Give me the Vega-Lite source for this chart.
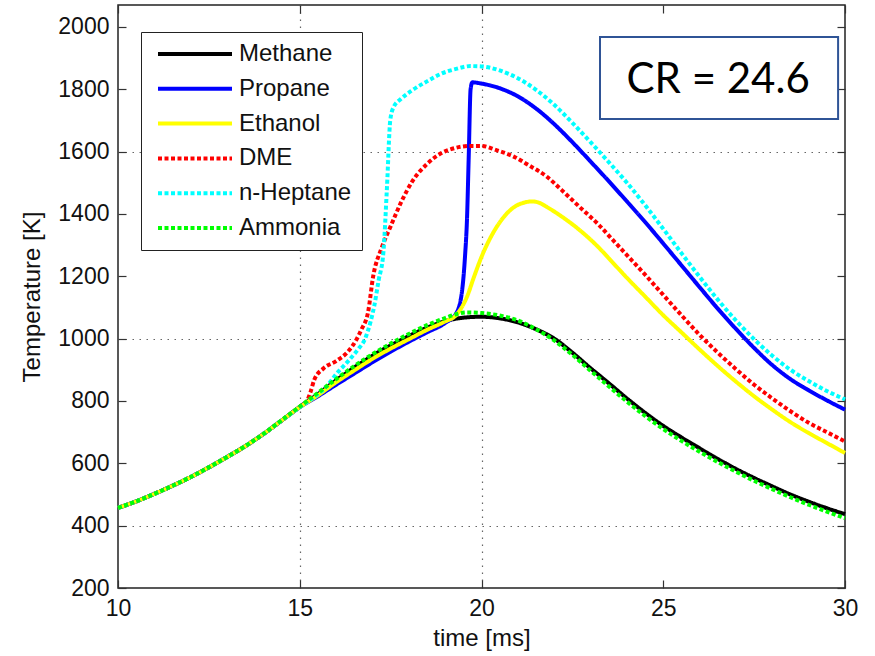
{
  "$schema": "https://vega.github.io/schema/vega-lite/v6.json",
  "width": 727,
  "height": 583,
  "autosize": {"type": "none"},
  "padding": {"left": 118, "top": 5, "right": 30, "bottom": 68},
  "background": "white",
  "config": {
    "view": {"stroke": "#222", "strokeWidth": 1.5},
    "font": "Liberation Sans",
    "axis": {
      "domain": false, "grid": false,
      "labelFont": "Liberation Sans", "titleFont": "Liberation Sans",
      "labelFontSize": 23, "titleFontSize": 24, "titleFontWeight": "normal",
      "labelColor": "#111", "titleColor": "#111",
      "tickColor": "#333", "tickSize": -8, "tickWidth": 1.2,
      "labelFlush": false, "labelOverlap": false, "format": "d"
    },
    "legend": {
      "orient": "none", "legendX": 23, "legendY": 27,
      "strokeColor": "#222", "fillColor": "white", "padding": 10,
      "symbolType": "stroke", "symbolSize": 5476, "symbolStrokeWidth": 4, "symbolOffset": 5,
      "clipHeight": 24, "rowPadding": 10.8,
      "labelFont": "Liberation Sans", "labelFontSize": 24, "labelColor": "#111", "labelOffset": 5,
      "labelLimit": 300
    }
  },
  "datasets": {
    "temps": [
      {"fuel": "Methane", "t": 10, "T": 457}, {"fuel": "Methane", "t": 10.5, "T": 478}, {"fuel": "Methane", "t": 11, "T": 502}, {"fuel": "Methane", "t": 11.5, "T": 528}, {"fuel": "Methane", "t": 12, "T": 556}, {"fuel": "Methane", "t": 12.5, "T": 587}, {"fuel": "Methane", "t": 13, "T": 620}, {"fuel": "Methane", "t": 13.5, "T": 655}, {"fuel": "Methane", "t": 14, "T": 694}, {"fuel": "Methane", "t": 14.5, "T": 737}, {"fuel": "Methane", "t": 15, "T": 781},
      {"fuel": "Methane", "t": 15.5, "T": 822}, {"fuel": "Methane", "t": 16, "T": 866}, {"fuel": "Methane", "t": 16.5, "T": 907}, {"fuel": "Methane", "t": 17, "T": 945}, {"fuel": "Methane", "t": 17.5, "T": 978}, {"fuel": "Methane", "t": 18, "T": 1008}, {"fuel": "Methane", "t": 18.5, "T": 1035}, {"fuel": "Methane", "t": 19, "T": 1056}, {"fuel": "Methane", "t": 19.5, "T": 1067}, {"fuel": "Methane", "t": 20, "T": 1070}, {"fuel": "Methane", "t": 20.5, "T": 1065}, {"fuel": "Methane", "t": 21, "T": 1052}, {"fuel": "Methane", "t": 21.5, "T": 1030}, {"fuel": "Methane", "t": 22, "T": 1000}, {"fuel": "Methane", "t": 22.5, "T": 955}, {"fuel": "Methane", "t": 23, "T": 905}, {"fuel": "Methane", "t": 23.5, "T": 857}, {"fuel": "Methane", "t": 24, "T": 808}, {"fuel": "Methane", "t": 24.5, "T": 762}, {"fuel": "Methane", "t": 25, "T": 720}, {"fuel": "Methane", "t": 25.5, "T": 683}, {"fuel": "Methane", "t": 26, "T": 648}, {"fuel": "Methane", "t": 26.5, "T": 614}, {"fuel": "Methane", "t": 27, "T": 582}, {"fuel": "Methane", "t": 27.5, "T": 553}, {"fuel": "Methane", "t": 28, "T": 526}, {"fuel": "Methane", "t": 28.5, "T": 500}, {"fuel": "Methane", "t": 29, "T": 477}, {"fuel": "Methane", "t": 29.5, "T": 456}, {"fuel": "Methane", "t": 30, "T": 437},

      {"fuel": "Propane", "t": 10, "T": 457}, {"fuel": "Propane", "t": 10.5, "T": 478}, {"fuel": "Propane", "t": 11, "T": 502}, {"fuel": "Propane", "t": 11.5, "T": 528}, {"fuel": "Propane", "t": 12, "T": 556}, {"fuel": "Propane", "t": 12.5, "T": 587}, {"fuel": "Propane", "t": 13, "T": 620}, {"fuel": "Propane", "t": 13.5, "T": 655}, {"fuel": "Propane", "t": 14, "T": 694}, {"fuel": "Propane", "t": 14.5, "T": 737}, {"fuel": "Propane", "t": 15, "T": 780},
      {"fuel": "Propane", "t": 15.5, "T": 815}, {"fuel": "Propane", "t": 16, "T": 852}, {"fuel": "Propane", "t": 16.5, "T": 888}, {"fuel": "Propane", "t": 17, "T": 924}, {"fuel": "Propane", "t": 17.5, "T": 958}, {"fuel": "Propane", "t": 18, "T": 990}, {"fuel": "Propane", "t": 18.5, "T": 1020}, {"fuel": "Propane", "t": 19, "T": 1050}, {"fuel": "Propane", "t": 19.3, "T": 1080}, {"fuel": "Propane", "t": 19.45, "T": 1140}, {"fuel": "Propane", "t": 19.55, "T": 1270}, {"fuel": "Propane", "t": 19.6, "T": 1380}, {"fuel": "Propane", "t": 19.65, "T": 1590}, {"fuel": "Propane", "t": 19.7, "T": 1800}, {"fuel": "Propane", "t": 19.75, "T": 1822}, {"fuel": "Propane", "t": 20, "T": 1818}, {"fuel": "Propane", "t": 20.5, "T": 1803}, {"fuel": "Propane", "t": 21, "T": 1777}, {"fuel": "Propane", "t": 21.5, "T": 1738}, {"fuel": "Propane", "t": 22, "T": 1688}, {"fuel": "Propane", "t": 22.5, "T": 1630}, {"fuel": "Propane", "t": 23, "T": 1568}, {"fuel": "Propane", "t": 23.5, "T": 1505}, {"fuel": "Propane", "t": 24, "T": 1440}, {"fuel": "Propane", "t": 24.5, "T": 1374}, {"fuel": "Propane", "t": 25, "T": 1305}, {"fuel": "Propane", "t": 25.5, "T": 1235}, {"fuel": "Propane", "t": 26, "T": 1165}, {"fuel": "Propane", "t": 26.5, "T": 1096}, {"fuel": "Propane", "t": 27, "T": 1031}, {"fuel": "Propane", "t": 27.5, "T": 970}, {"fuel": "Propane", "t": 28, "T": 915}, {"fuel": "Propane", "t": 28.5, "T": 870}, {"fuel": "Propane", "t": 29, "T": 834}, {"fuel": "Propane", "t": 29.5, "T": 802}, {"fuel": "Propane", "t": 30, "T": 772},

      {"fuel": "Ethanol", "t": 10, "T": 457}, {"fuel": "Ethanol", "t": 10.5, "T": 478}, {"fuel": "Ethanol", "t": 11, "T": 502}, {"fuel": "Ethanol", "t": 11.5, "T": 528}, {"fuel": "Ethanol", "t": 12, "T": 556}, {"fuel": "Ethanol", "t": 12.5, "T": 587}, {"fuel": "Ethanol", "t": 13, "T": 620}, {"fuel": "Ethanol", "t": 13.5, "T": 655}, {"fuel": "Ethanol", "t": 14, "T": 694}, {"fuel": "Ethanol", "t": 14.5, "T": 737}, {"fuel": "Ethanol", "t": 15, "T": 780},
      {"fuel": "Ethanol", "t": 15.5, "T": 818}, {"fuel": "Ethanol", "t": 16, "T": 860}, {"fuel": "Ethanol", "t": 16.5, "T": 898}, {"fuel": "Ethanol", "t": 17, "T": 935}, {"fuel": "Ethanol", "t": 17.5, "T": 968}, {"fuel": "Ethanol", "t": 18, "T": 998}, {"fuel": "Ethanol", "t": 18.5, "T": 1028}, {"fuel": "Ethanol", "t": 19, "T": 1055}, {"fuel": "Ethanol", "t": 19.3, "T": 1075}, {"fuel": "Ethanol", "t": 19.6, "T": 1134}, {"fuel": "Ethanol", "t": 19.8, "T": 1200}, {"fuel": "Ethanol", "t": 20, "T": 1262}, {"fuel": "Ethanol", "t": 20.3, "T": 1335}, {"fuel": "Ethanol", "t": 20.6, "T": 1388}, {"fuel": "Ethanol", "t": 20.9, "T": 1422}, {"fuel": "Ethanol", "t": 21.2, "T": 1437}, {"fuel": "Ethanol", "t": 21.4, "T": 1440}, {"fuel": "Ethanol", "t": 21.6, "T": 1435}, {"fuel": "Ethanol", "t": 21.8, "T": 1422}, {"fuel": "Ethanol", "t": 22.2, "T": 1392}, {"fuel": "Ethanol", "t": 22.7, "T": 1348}, {"fuel": "Ethanol", "t": 23.2, "T": 1295}, {"fuel": "Ethanol", "t": 23.6, "T": 1245}, {"fuel": "Ethanol", "t": 24, "T": 1195}, {"fuel": "Ethanol", "t": 24.5, "T": 1135}, {"fuel": "Ethanol", "t": 25, "T": 1075}, {"fuel": "Ethanol", "t": 25.5, "T": 1020}, {"fuel": "Ethanol", "t": 26, "T": 965}, {"fuel": "Ethanol", "t": 26.5, "T": 912}, {"fuel": "Ethanol", "t": 27, "T": 862}, {"fuel": "Ethanol", "t": 27.5, "T": 815}, {"fuel": "Ethanol", "t": 28, "T": 772}, {"fuel": "Ethanol", "t": 28.5, "T": 732}, {"fuel": "Ethanol", "t": 29, "T": 697}, {"fuel": "Ethanol", "t": 29.5, "T": 665}, {"fuel": "Ethanol", "t": 30, "T": 633},

      {"fuel": "DME", "t": 10, "T": 457}, {"fuel": "DME", "t": 10.5, "T": 478}, {"fuel": "DME", "t": 11, "T": 502}, {"fuel": "DME", "t": 11.5, "T": 528}, {"fuel": "DME", "t": 12, "T": 556}, {"fuel": "DME", "t": 12.5, "T": 587}, {"fuel": "DME", "t": 13, "T": 620}, {"fuel": "DME", "t": 13.5, "T": 655}, {"fuel": "DME", "t": 14, "T": 694}, {"fuel": "DME", "t": 14.5, "T": 737}, {"fuel": "DME", "t": 15, "T": 781},
      {"fuel": "DME", "t": 15.2, "T": 800}, {"fuel": "DME", "t": 15.3, "T": 830}, {"fuel": "DME", "t": 15.4, "T": 868}, {"fuel": "DME", "t": 15.65, "T": 904}, {"fuel": "DME", "t": 16, "T": 928}, {"fuel": "DME", "t": 16.3, "T": 955}, {"fuel": "DME", "t": 16.55, "T": 995}, {"fuel": "DME", "t": 16.7, "T": 1030}, {"fuel": "DME", "t": 16.88, "T": 1085}, {"fuel": "DME", "t": 17.02, "T": 1200}, {"fuel": "DME", "t": 17.25, "T": 1290}, {"fuel": "DME", "t": 17.5, "T": 1360}, {"fuel": "DME", "t": 17.8, "T": 1440}, {"fuel": "DME", "t": 18.1, "T": 1505}, {"fuel": "DME", "t": 18.5, "T": 1560}, {"fuel": "DME", "t": 18.9, "T": 1595}, {"fuel": "DME", "t": 19.3, "T": 1612}, {"fuel": "DME", "t": 19.7, "T": 1618}, {"fuel": "DME", "t": 20, "T": 1618}, {"fuel": "DME", "t": 20.4, "T": 1605}, {"fuel": "DME", "t": 20.9, "T": 1583}, {"fuel": "DME", "t": 21.3, "T": 1556}, {"fuel": "DME", "t": 21.8, "T": 1519}, {"fuel": "DME", "t": 22.2, "T": 1477}, {"fuel": "DME", "t": 22.7, "T": 1422}, {"fuel": "DME", "t": 23.2, "T": 1368}, {"fuel": "DME", "t": 23.6, "T": 1318}, {"fuel": "DME", "t": 24, "T": 1268}, {"fuel": "DME", "t": 24.5, "T": 1205}, {"fuel": "DME", "t": 25, "T": 1140}, {"fuel": "DME", "t": 25.5, "T": 1075}, {"fuel": "DME", "t": 26, "T": 1012}, {"fuel": "DME", "t": 26.5, "T": 955}, {"fuel": "DME", "t": 27, "T": 902}, {"fuel": "DME", "t": 27.5, "T": 852}, {"fuel": "DME", "t": 28, "T": 808}, {"fuel": "DME", "t": 28.5, "T": 767}, {"fuel": "DME", "t": 29, "T": 730}, {"fuel": "DME", "t": 29.5, "T": 700}, {"fuel": "DME", "t": 30, "T": 670},

      {"fuel": "n-Heptane", "t": 10, "T": 457}, {"fuel": "n-Heptane", "t": 10.5, "T": 478}, {"fuel": "n-Heptane", "t": 11, "T": 502}, {"fuel": "n-Heptane", "t": 11.5, "T": 528}, {"fuel": "n-Heptane", "t": 12, "T": 556}, {"fuel": "n-Heptane", "t": 12.5, "T": 587}, {"fuel": "n-Heptane", "t": 13, "T": 620}, {"fuel": "n-Heptane", "t": 13.5, "T": 655}, {"fuel": "n-Heptane", "t": 14, "T": 694}, {"fuel": "n-Heptane", "t": 14.5, "T": 737}, {"fuel": "n-Heptane", "t": 15, "T": 780},
      {"fuel": "n-Heptane", "t": 15.5, "T": 822}, {"fuel": "n-Heptane", "t": 15.75, "T": 848}, {"fuel": "n-Heptane", "t": 16, "T": 886}, {"fuel": "n-Heptane", "t": 16.35, "T": 930}, {"fuel": "n-Heptane", "t": 16.6, "T": 965}, {"fuel": "n-Heptane", "t": 16.8, "T": 1000}, {"fuel": "n-Heptane", "t": 16.95, "T": 1055}, {"fuel": "n-Heptane", "t": 17.05, "T": 1105}, {"fuel": "n-Heptane", "t": 17.17, "T": 1187}, {"fuel": "n-Heptane", "t": 17.3, "T": 1275}, {"fuel": "n-Heptane", "t": 17.4, "T": 1487}, {"fuel": "n-Heptane", "t": 17.49, "T": 1700}, {"fuel": "n-Heptane", "t": 17.58, "T": 1742}, {"fuel": "n-Heptane", "t": 17.8, "T": 1770}, {"fuel": "n-Heptane", "t": 18.1, "T": 1797}, {"fuel": "n-Heptane", "t": 18.5, "T": 1825}, {"fuel": "n-Heptane", "t": 18.9, "T": 1850}, {"fuel": "n-Heptane", "t": 19.3, "T": 1865}, {"fuel": "n-Heptane", "t": 19.7, "T": 1874}, {"fuel": "n-Heptane", "t": 20, "T": 1873}, {"fuel": "n-Heptane", "t": 20.5, "T": 1860}, {"fuel": "n-Heptane", "t": 21, "T": 1835}, {"fuel": "n-Heptane", "t": 21.5, "T": 1798}, {"fuel": "n-Heptane", "t": 22, "T": 1750}, {"fuel": "n-Heptane", "t": 22.5, "T": 1692}, {"fuel": "n-Heptane", "t": 23, "T": 1630}, {"fuel": "n-Heptane", "t": 23.5, "T": 1566}, {"fuel": "n-Heptane", "t": 24, "T": 1500}, {"fuel": "n-Heptane", "t": 24.5, "T": 1428}, {"fuel": "n-Heptane", "t": 25, "T": 1352}, {"fuel": "n-Heptane", "t": 25.5, "T": 1274}, {"fuel": "n-Heptane", "t": 26, "T": 1198}, {"fuel": "n-Heptane", "t": 26.5, "T": 1125}, {"fuel": "n-Heptane", "t": 27, "T": 1058}, {"fuel": "n-Heptane", "t": 27.5, "T": 998}, {"fuel": "n-Heptane", "t": 28, "T": 945}, {"fuel": "n-Heptane", "t": 28.5, "T": 900}, {"fuel": "n-Heptane", "t": 29, "T": 864}, {"fuel": "n-Heptane", "t": 29.5, "T": 832}, {"fuel": "n-Heptane", "t": 30, "T": 805},

      {"fuel": "Ammonia", "t": 10, "T": 457}, {"fuel": "Ammonia", "t": 10.5, "T": 478}, {"fuel": "Ammonia", "t": 11, "T": 502}, {"fuel": "Ammonia", "t": 11.5, "T": 528}, {"fuel": "Ammonia", "t": 12, "T": 556}, {"fuel": "Ammonia", "t": 12.5, "T": 587}, {"fuel": "Ammonia", "t": 13, "T": 620}, {"fuel": "Ammonia", "t": 13.5, "T": 655}, {"fuel": "Ammonia", "t": 14, "T": 694}, {"fuel": "Ammonia", "t": 14.5, "T": 738}, {"fuel": "Ammonia", "t": 15, "T": 782},
      {"fuel": "Ammonia", "t": 15.5, "T": 826}, {"fuel": "Ammonia", "t": 16, "T": 870}, {"fuel": "Ammonia", "t": 16.5, "T": 912}, {"fuel": "Ammonia", "t": 17, "T": 950}, {"fuel": "Ammonia", "t": 17.5, "T": 984}, {"fuel": "Ammonia", "t": 18, "T": 1015}, {"fuel": "Ammonia", "t": 18.5, "T": 1043}, {"fuel": "Ammonia", "t": 19, "T": 1066}, {"fuel": "Ammonia", "t": 19.3, "T": 1078}, {"fuel": "Ammonia", "t": 19.6, "T": 1084}, {"fuel": "Ammonia", "t": 20, "T": 1082}, {"fuel": "Ammonia", "t": 20.5, "T": 1074}, {"fuel": "Ammonia", "t": 21, "T": 1058}, {"fuel": "Ammonia", "t": 21.5, "T": 1030}, {"fuel": "Ammonia", "t": 22, "T": 994}, {"fuel": "Ammonia", "t": 22.5, "T": 948}, {"fuel": "Ammonia", "t": 23, "T": 897}, {"fuel": "Ammonia", "t": 23.5, "T": 847}, {"fuel": "Ammonia", "t": 24, "T": 798}, {"fuel": "Ammonia", "t": 24.5, "T": 752}, {"fuel": "Ammonia", "t": 25, "T": 710}, {"fuel": "Ammonia", "t": 25.5, "T": 672}, {"fuel": "Ammonia", "t": 26, "T": 637}, {"fuel": "Ammonia", "t": 26.5, "T": 604}, {"fuel": "Ammonia", "t": 27, "T": 573}, {"fuel": "Ammonia", "t": 27.5, "T": 544}, {"fuel": "Ammonia", "t": 28, "T": 517}, {"fuel": "Ammonia", "t": 28.5, "T": 491}, {"fuel": "Ammonia", "t": 29, "T": 467}, {"fuel": "Ammonia", "t": 29.5, "T": 445}, {"fuel": "Ammonia", "t": 30, "T": 424}
    ],
    "note": [
      {"label": "CR = 24.6", "tLeft": 23.26, "tRight": 29.81, "TBottom": 1704, "TTop": 1967, "tText": 26.51, "TText": 1787}
    ]
  },
  "layer": [
    {
      "data": {"name": "note"},
      "mark": {"type": "text", "opacity": 0},
      "encoding": {
        "x": {"field": "tText", "type": "quantitative", "scale": {"domain": [10, 30], "nice": false},
              "axis": {"orient": "bottom", "values": [15, 20], "grid": true, "ticks": false, "labels": false, "title": null,
                       "gridColor": "#666", "gridDash": [1.5, 5.5], "gridWidth": 1.2}},
        "y": {"field": "TText", "type": "quantitative", "scale": {"domain": [200, 2070], "nice": false, "zero": false},
              "axis": {"orient": "left", "values": [400, 1000, 1600], "grid": true, "ticks": false, "labels": false, "title": null,
                       "gridColor": "#666", "gridDash": [1.5, 5.5], "gridWidth": 1.2}},
        "text": {"field": "label"}
      }
    },
    {
      "data": {"name": "temps"},
      "mark": {"type": "line", "strokeWidth": 4, "interpolate": "monotone"},
      "encoding": {
        "x": {"field": "t", "type": "quantitative", "scale": {"domain": [10, 30], "nice": false},
              "axis": {"orient": "bottom", "values": [10, 15, 20, 25, 30], "title": "time [ms]", "labelPadding": 17, "titlePadding": 6}},
        "y": {"field": "T", "type": "quantitative", "scale": {"domain": [200, 2070], "nice": false, "zero": false},
              "axis": {"orient": "left", "values": [200, 400, 600, 800, 1000, 1200, 1400, 1600, 1800, 2000], "title": "Temperature [K]", "labelPadding": 17, "titlePadding": 13}},
        "color": {"field": "fuel", "type": "nominal",
                  "scale": {"domain": ["Methane", "Propane", "Ethanol", "DME", "n-Heptane", "Ammonia"],
                            "range": ["#000000", "#0000FF", "#FFFF00", "#FF0000", "#00FFFF", "#00FF00"]},
                  "legend": {"title": null}},
        "strokeDash": {"field": "fuel", "type": "nominal",
                       "scale": {"domain": ["Methane", "Propane", "Ethanol", "DME", "n-Heptane", "Ammonia"],
                                 "range": [[1, 0], [1, 0], [1, 0], [4, 2.5], [4, 2.5], [4, 2.5]]},
                       "legend": {"title": null}}
      }
    },
    {
      "data": {"name": "note"},
      "mark": {"type": "rect", "fill": "white", "stroke": "#2F5496", "strokeWidth": 2},
      "encoding": {
        "x": {"field": "tLeft", "type": "quantitative", "scale": {"domain": [10, 30], "nice": false},
              "axis": {"orient": "top", "values": [10, 15, 20, 25, 30], "labels": false, "title": null}},
        "x2": {"field": "tRight"},
        "y": {"field": "TBottom", "type": "quantitative", "scale": {"domain": [200, 2070], "nice": false, "zero": false},
              "axis": {"orient": "right", "values": [200, 400, 600, 800, 1000, 1200, 1400, 1600, 1800, 2000], "labels": false, "title": null}},
        "y2": {"field": "TTop"}
      }
    },
    {
      "data": {"name": "note"},
      "mark": {"type": "text", "font": "Lato", "fontSize": 42, "color": "black", "align": "center", "baseline": "alphabetic"},
      "encoding": {
        "x": {"field": "tText", "type": "quantitative", "scale": {"domain": [10, 30], "nice": false}, "axis": null},
        "y": {"field": "TText", "type": "quantitative", "scale": {"domain": [200, 2070], "nice": false, "zero": false}, "axis": null},
        "text": {"field": "label"}
      }
    }
  ],
  "resolve": {"axis": {"x": "independent", "y": "independent"}}
}
